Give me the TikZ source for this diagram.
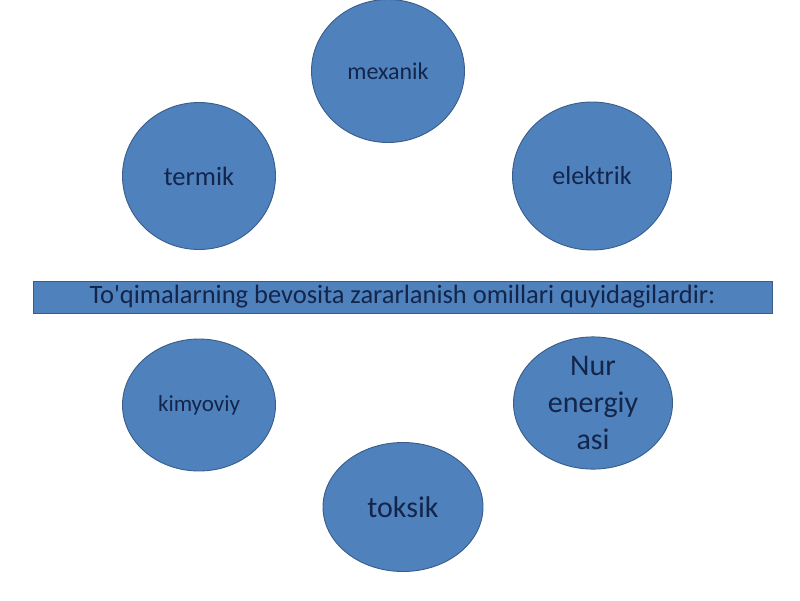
\documentclass[tikz,border=0pt]{standalone}
\usepackage{fontspec}
\setmainfont{Carlito}
\usepackage{tikz}
\usetikzlibrary{shapes}
\definecolor{blobfill}{HTML}{4F81BD}
\definecolor{blobline}{HTML}{385D8A}
\definecolor{blobtext}{HTML}{13254A}

\begin{document}
\begin{tikzpicture}[x=1pt, y=-1pt,
  blob/.style={ellipse, draw=blobline, fill=blobfill, line width=0.9pt,
    text=blobtext, inner sep=0pt, align=center},
  banner/.style={rectangle, draw=blobline, fill=blobfill, line width=0.9pt,
    text=blobtext, inner sep=0pt, minimum width=739pt, minimum height=32pt}]
  \useasboundingbox (0,0) rectangle (800,600);
  \node[blob, minimum width=153pt, minimum height=143pt, font=\fontsize{24}{28}\selectfont] (mexanik) at (388,71) {mexanik};
  \node[blob, minimum width=153pt, minimum height=147pt, font=\fontsize{26.5}{30}\selectfont] (termik) at (199,176) {termik};
  \node[blob, minimum width=159pt, minimum height=148pt, font=\fontsize{26}{30}\selectfont] (elektrik) at (592,176) {elektrik};
  \node[banner, font=\fontsize{26.5}{30}\selectfont] (omillar) at (402.5,297) {To\textquotesingle qimalarning bevosita zararlanish omillari quyidagilardir:};
  \node[blob, minimum width=153pt, minimum height=132pt, font=\fontsize{23}{27}\selectfont] (kimyoviy) at (199,405) {kimyoviy};
  \node[blob, minimum width=159pt, minimum height=129pt, font=\fontsize{30}{37}\selectfont] (nur) at (593,403) {Nur\\energiy\\asi};
  \node[blob, minimum width=160pt, minimum height=129pt, font=\fontsize{30}{34}\selectfont] (toksik) at (403,507) {toksik};
\end{tikzpicture}
\end{document}
